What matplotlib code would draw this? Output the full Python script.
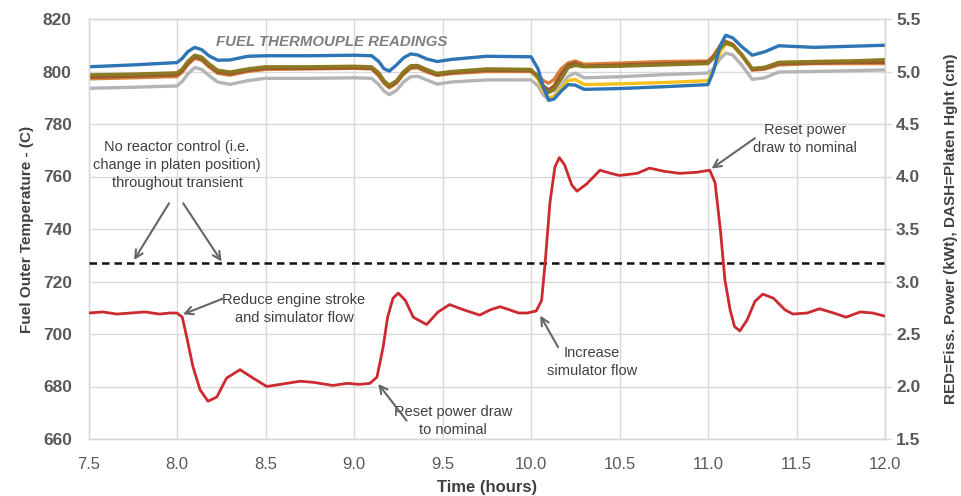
import matplotlib
matplotlib.use("Agg")
import matplotlib.pyplot as plt
from matplotlib.ticker import FormatStrFormatter, MultipleLocator

# ---- data ----
tc_time = [7.5, 7.75, 8.0, 8.03, 8.06, 8.1, 8.14, 8.18, 8.23, 8.3,
           8.4, 8.5, 8.75, 9.0, 9.1, 9.14, 9.17, 9.2, 9.24, 9.28,
           9.32, 9.36, 9.41, 9.47, 9.55, 9.75, 10.0, 10.04, 10.07, 10.1,
           10.13, 10.17, 10.21, 10.25, 10.3, 10.5, 10.75, 11.0, 11.03, 11.07,
           11.1, 11.14, 11.19, 11.25, 11.32, 11.4, 11.6, 11.8, 12.0]

tc_blue = [801.8, 802.5, 803.4, 805.0, 807.5, 809.2, 808.3, 806.0, 804.3, 804.4,
           805.8, 806.0, 806.0, 806.2, 806.0, 803.8, 801.0, 800.2, 802.5, 805.2,
           806.7, 806.3, 804.8, 803.8, 804.6, 805.8, 805.6, 801.0, 794.0, 789.0,
           789.5, 792.5, 795.0, 794.8, 793.2, 793.5, 794.2, 795.0, 800.0, 810.0,
           813.8, 812.8, 809.5, 806.2, 807.5, 809.8, 809.2, 809.6, 810.0]
tc_olive = [798.7, 799.0, 799.5, 801.0, 803.8, 806.2, 805.5, 803.0, 800.5, 799.8,
            801.0, 801.8, 801.8, 802.0, 801.8, 799.5, 796.5, 794.8, 796.5, 800.0,
            802.2, 802.3, 800.8, 799.3, 800.0, 801.0, 800.8, 798.0, 794.0, 792.0,
            793.0, 797.0, 801.5, 802.3, 801.8, 802.0, 802.5, 803.0, 805.0, 809.0,
            810.8, 810.0, 806.5, 801.2, 801.6, 803.5, 803.8, 804.0, 804.5]
tc_brown = [797.8, 798.2, 798.7, 800.3, 803.0, 805.5, 804.8, 802.3, 799.8, 799.1,
            800.4, 801.2, 801.2, 801.4, 801.2, 798.8, 796.0, 794.2, 796.0, 799.3,
            801.6, 801.8, 800.3, 798.8, 799.5, 800.5, 800.3, 797.8, 794.5, 793.0,
            794.5, 799.0, 802.5, 803.3, 802.0, 802.5, 803.0, 803.5, 805.5, 809.5,
            811.2, 810.2, 806.5, 800.8, 801.2, 803.0, 803.2, 803.5, 803.5]
tc_orange = [797.2, 797.6, 798.1, 799.8, 802.5, 805.0, 804.3, 801.8, 799.3, 798.6,
             800.0, 800.8, 801.0, 801.2, 801.0, 798.3, 795.5, 793.8, 795.6, 799.0,
             801.2, 801.4, 799.8, 798.5, 799.2, 800.0, 800.0, 798.5, 796.5, 795.5,
             797.0, 801.0, 803.3, 804.0, 802.8, 803.2, 803.8, 804.0, 806.0, 810.0,
             811.5, 810.4, 806.3, 800.5, 800.9, 802.5, 803.0, 803.0, 803.0]
tc_yellow = [797.5, 798.0, 798.5, 800.0, 802.8, 805.3, 804.5, 802.0, 799.5, 799.0,
             800.4, 801.1, 801.2, 801.4, 801.2, 798.6, 795.8, 793.9, 795.7, 799.0,
             801.4, 801.6, 800.0, 798.7, 799.4, 800.4, 800.2, 797.0, 792.5, 790.0,
             790.5, 793.5, 796.5, 797.0, 795.0, 795.3, 795.8, 796.5, 800.5, 807.5,
             810.5, 809.8, 806.0, 800.7, 801.2, 803.4, 803.8, 804.0, 804.2]
tc_gray = [793.6, 794.0, 794.5, 796.2, 799.0, 801.5, 800.8, 798.5, 796.0, 795.1,
           796.5, 797.4, 797.4, 797.6, 797.4, 795.0, 792.5, 791.2, 792.8, 796.0,
           798.0, 798.2, 796.8, 795.2, 796.0, 796.8, 796.8, 794.5, 791.0, 789.5,
           790.5, 794.5, 798.2, 799.4, 797.6, 798.0, 798.8, 799.4, 801.0, 805.0,
           807.0, 806.3, 802.5, 797.0, 797.6, 799.8, 800.0, 800.3, 800.6]

power_time = [7.5, 7.58, 7.66, 7.74, 7.82, 7.9, 7.96, 8.0, 8.03, 8.055,
              8.09, 8.13, 8.175, 8.225, 8.28, 8.356, 8.43, 8.507, 8.62, 8.695,
              8.77, 8.88, 8.96, 9.03, 9.09, 9.13, 9.165, 9.19, 9.22, 9.25,
              9.29, 9.335, 9.41, 9.475, 9.54, 9.62, 9.71, 9.77, 9.825, 9.88,
              9.93, 9.98, 10.03, 10.06, 10.08, 10.107, 10.135, 10.16, 10.19, 10.23,
              10.26, 10.315, 10.39, 10.45, 10.5, 10.6, 10.67, 10.75, 10.84, 10.936,
              11.01, 11.04, 11.07, 11.096, 11.125, 11.15, 11.18, 11.22, 11.265, 11.31,
              11.37, 11.435, 11.48, 11.56, 11.63, 11.71, 11.78, 11.86, 11.93, 12.0]
power_kwt = [2.70, 2.71, 2.69, 2.70, 2.71, 2.69, 2.70, 2.70, 2.66, 2.47,
             2.19, 1.97, 1.86, 1.90, 2.08, 2.16, 2.08, 2.00, 2.03, 2.05,
             2.04, 2.01, 2.03, 2.02, 2.03, 2.09, 2.38, 2.66, 2.84, 2.89,
             2.82, 2.66, 2.59, 2.71, 2.78, 2.73, 2.68, 2.73, 2.76, 2.73,
             2.70, 2.70, 2.72, 2.82, 3.18, 3.75, 4.09, 4.18, 4.11, 3.92,
             3.86, 3.93, 4.06, 4.03, 4.01, 4.03, 4.08, 4.05, 4.03, 4.04,
             4.06, 3.94, 3.49, 3.01, 2.73, 2.57, 2.53, 2.63, 2.81, 2.88,
             2.84, 2.73, 2.69, 2.70, 2.74, 2.70, 2.66, 2.71, 2.70, 2.67]

platen_time = [7.5, 12.0]
platen_cm = [3.18, 3.18]

x_ticks = [7.5, 8.0, 8.5, 9.0, 9.5, 10.0, 10.5, 11.0, 11.5, 12.0]

# ---- figure ----
fig = plt.figure(figsize=(9.62, 4.96), dpi=100)
ax = fig.add_axes([88.5 / 962, 1 - 439 / 496, (885 - 88.5) / 962, (439 - 19) / 496])
ax2 = ax.twinx()

grid_c = "#d9d9d9"
txt_c = "#595959"
ann_c = "#404040"
font_main = ["Liberation Sans Narrow", "Liberation Sans", "DejaVu Sans"]
font_ann = ["Liberation Sans", "DejaVu Sans"]

series = [
    (tc_gray, "#b4b4b4"),
    (tc_yellow, "#f2c21b"),
    (tc_orange, "#d8803a"),
    (tc_brown, "#9a5a2c"),
    (tc_olive, "#8b7a22"),
    (tc_blue, "#2e75b6"),
]
for vals, col in series:
    ax.plot(tc_time, vals, color=col, lw=2.4, solid_capstyle="round",
            solid_joinstyle="round", zorder=3)

ax.set_xlim(7.5, 12.0)
ax.set_ylim(660, 820)
ax.set_xticks(x_ticks)
ax.xaxis.set_major_formatter(FormatStrFormatter("%.1f"))
ax.yaxis.set_major_locator(MultipleLocator(20))
ax.grid(True, color=grid_c, lw=1.0, zorder=0)
ax.set_axisbelow(True)

ax2.plot(platen_time, platen_cm, color="#111111", lw=1.8, ls=(0, (3, 2)), zorder=4)
ax2.plot(power_time, power_kwt, color="#cc2a2f", lw=2.0, solid_joinstyle="round", zorder=5)
ax2.set_ylim(1.5, 5.5)
ax2.yaxis.set_major_locator(MultipleLocator(0.5))
ax2.yaxis.set_major_formatter(FormatStrFormatter("%.1f"))

for a in (ax, ax2):
    for s in a.spines.values():
        s.set_color(grid_c)
        s.set_linewidth(1.0)
    a.tick_params(axis="both", colors=grid_c, length=4, width=1.0)

for lab in ax.get_xticklabels():
    lab.set_fontfamily(font_main)
    lab.set_fontsize(12)
    lab.set_color(txt_c)
for lab in ax.get_yticklabels() + ax2.get_yticklabels():
    lab.set_fontfamily(font_main)
    lab.set_fontsize(12.5)
    lab.set_fontweight("bold")
    lab.set_color(txt_c)
ax.tick_params(axis="x", length=0, pad=13)
ax.tick_params(axis="y", length=0, pad=12)
ax2.tick_params(axis="y", length=4, pad=4)

ax.set_xlabel("Time (hours)", family=font_main, fontsize=12, fontweight="bold", color=ann_c, labelpad=6)
ax.set_ylabel("Fuel Outer Temperature - (C)", family=font_ann, fontsize=11, fontweight="bold",
              color=ann_c, labelpad=6)
ax2.set_ylabel("RED=Fiss. Power (kWt), DASH=Platen Hght (cm)", family=font_ann, fontsize=11,
               fontweight="bold", color=ann_c, labelpad=17)

# ---- annotations ----
ax.text(8.876, 811.2, "FUEL THERMOUPLE READINGS", family=font_ann, fontsize=10.8, fontweight="bold",
        style="italic", color="#7f7f7f", ha="center", va="center", zorder=6)

arrow = dict(arrowstyle="->", color="#666666", lw=1.5, shrinkA=0, shrinkB=0, mutation_scale=14)
akw = dict(family=font_ann, fontsize=10.5, color=ann_c, ha="center", va="center", linespacing=1.35)

ax.text(8.0, 764.4, "No reactor control (i.e.\nchange in platen position)\nthroughout transient",
        zorder=6, **akw)
ax.annotate("", xy=(7.757, 728.2), xytext=(7.955, 749.8), arrowprops=arrow, zorder=6)
ax.annotate("", xy=(8.252, 727.6), xytext=(8.035, 749.8), arrowprops=arrow, zorder=6)

ax.text(8.661, 709.5, "Reduce engine stroke\nand simulator flow", zorder=6, **akw)
ax.annotate("", xy=(8.034, 707.5), xytext=(8.26, 713.5), arrowprops=arrow, zorder=6)

ax.text(9.56, 666.9, "Reset power draw\nto nominal", zorder=6, **akw)
ax.annotate("", xy=(9.137, 681.0), xytext=(9.297, 667.0), arrowprops=arrow, zorder=6)

ax.text(10.345, 689.3, "Increase\nsimulator flow", zorder=6, **akw)
ax.annotate("", xy=(10.052, 707.0), xytext=(10.153, 695.0), arrowprops=arrow, zorder=6)

ax.text(11.55, 774.3, "Reset power\ndraw to nominal", zorder=6, **akw)
ax.annotate("", xy=(11.02, 763.0), xytext=(11.265, 774.6), arrowprops=arrow, zorder=6)

fig.savefig("out.png", dpi=100)
